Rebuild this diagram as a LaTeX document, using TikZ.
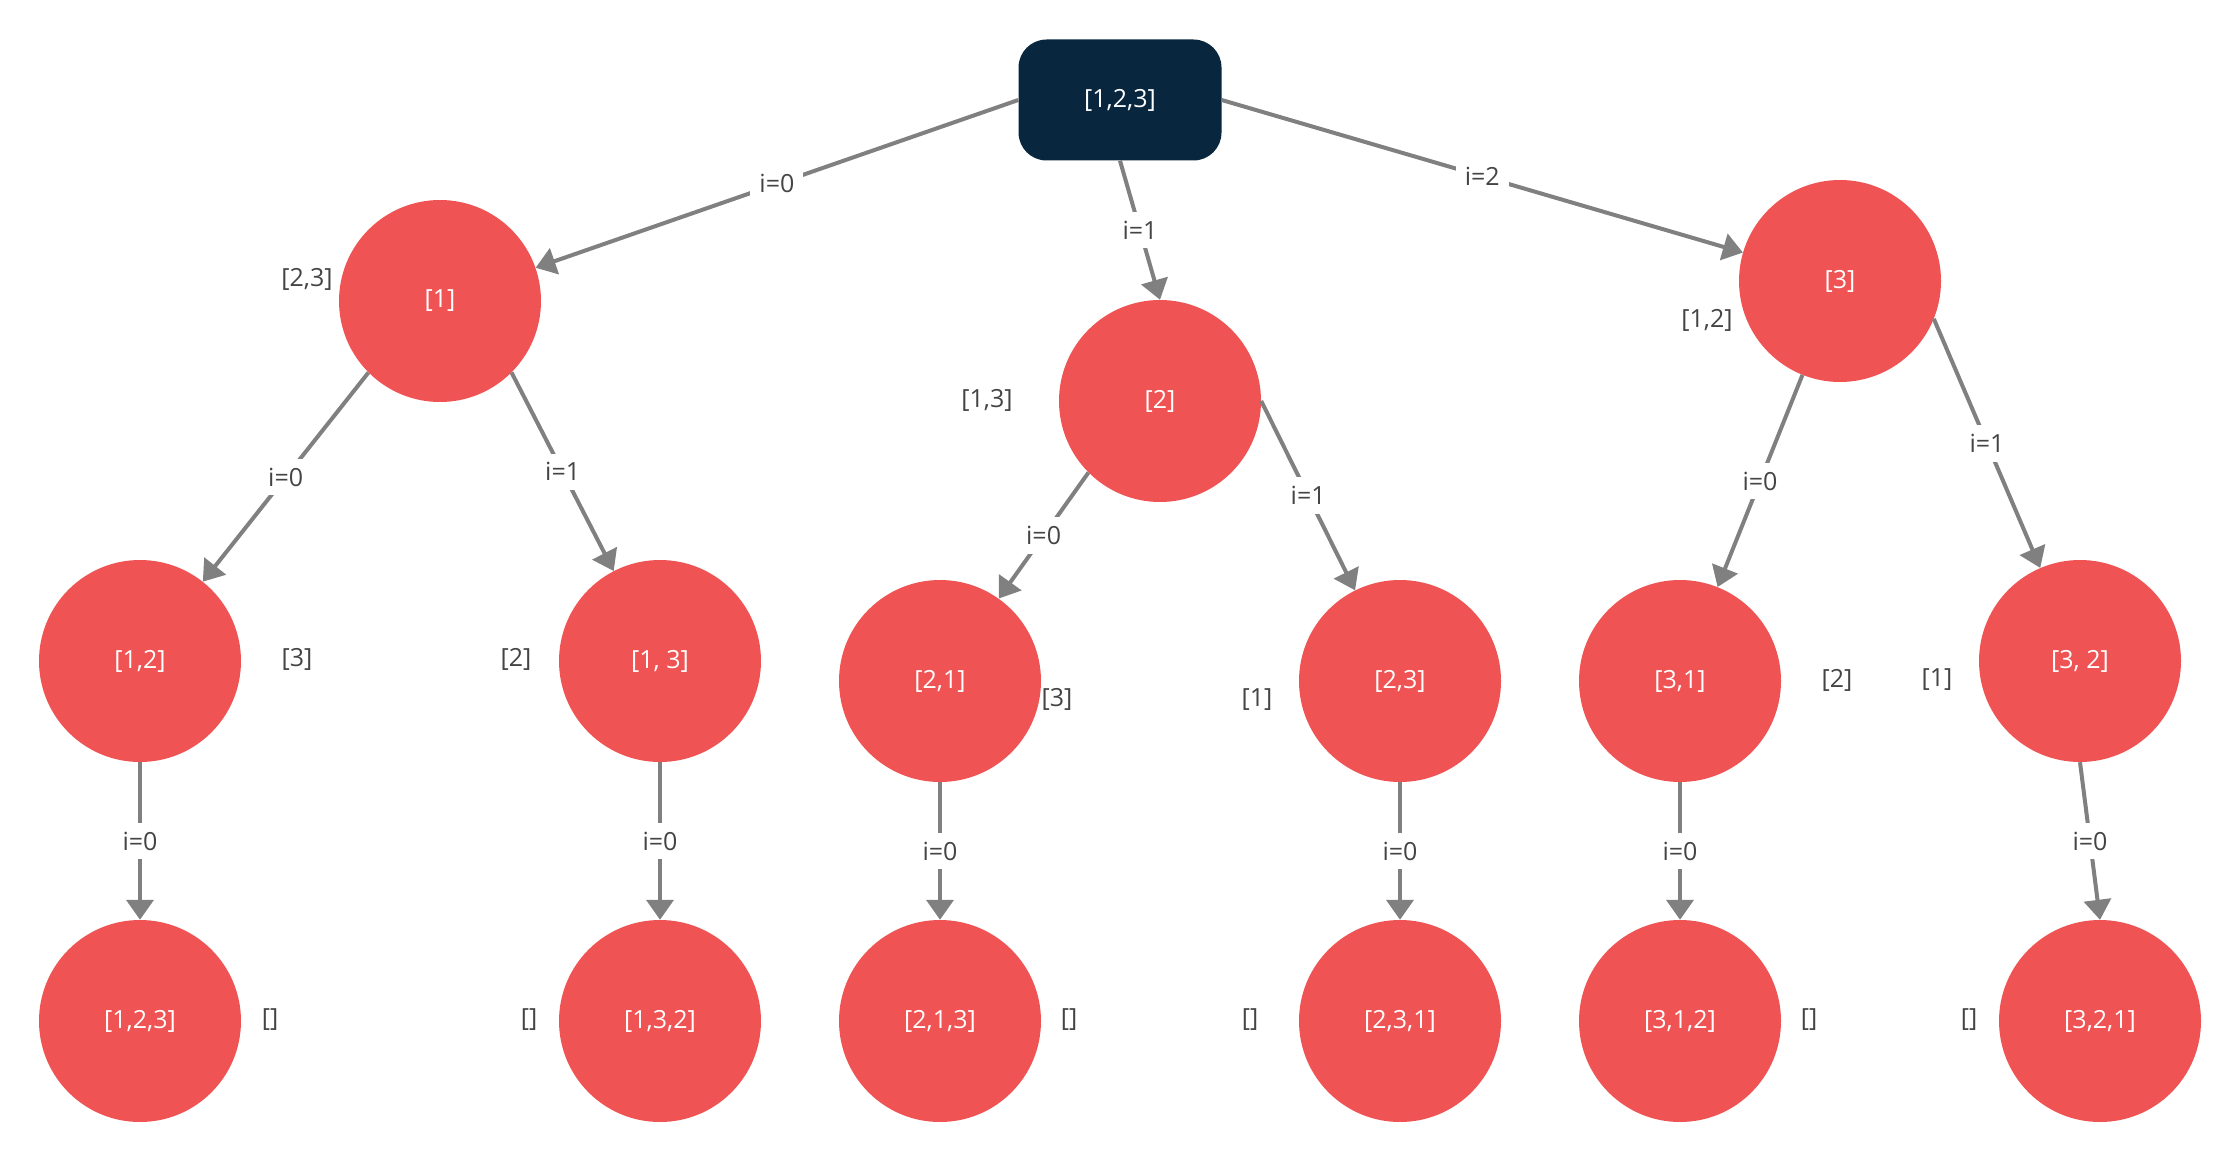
\documentclass[tikz,border=0pt]{standalone}
\usepackage{fontspec}
\setmainfont{Open Sans}
\usetikzlibrary{arrows.meta}
\definecolor{navy}{HTML}{08263D}
\definecolor{nodered}{HTML}{EF5353}
\definecolor{edgegray}{HTML}{808080}
\definecolor{textgray}{HTML}{444444}
\begin{document}
\begin{tikzpicture}[x=1pt,y=-1pt,
  every node/.style={font=\fontsize{25}{30}\selectfont},
  rootbox/.style={fill=navy, rounded corners=28pt, minimum width=203pt, minimum height=121pt, text=white, inner sep=0pt},
  perm/.style={circle, fill=nodered, minimum size=202pt, inner sep=0pt, text=white},
  rest/.style={text=textgray, inner sep=2pt},
  edge/.style={draw=edgegray, line width=4pt, -{Triangle[length=20pt,width=27pt]}},
  elabel/.style={fill=white, text=textgray, inner sep=9pt, pos=0.5}
]
\useasboundingbox (0,0) rectangle (2240,1161);

% root
\node[rootbox] (root) at (1120,100) {[1,2,3]};

% first level
\node[perm] (c1) at (440,301) {[1]};
\node[perm] (c2) at (1160,401) {[2]};
\node[perm] (c3) at (1840,281) {[3]};

% second level
\node[perm] (c12) at (140,661) {[1,2]};
\node[perm] (c13) at (660,661) {[1, 3]};
\node[perm] (c21) at (940,681) {[2,1]};
\node[perm] (c23) at (1400,681) {[2,3]};
\node[perm] (c31) at (1680,681) {[3,1]};
\node[perm] (c32) at (2080,661) {[3, 2]};

% leaves
\node[perm] (c123) at (140,1021) {[1,2,3]};
\node[perm] (c132) at (660,1021) {[1,3,2]};
\node[perm] (c213) at (940,1021) {[2,1,3]};
\node[perm] (c231) at (1400,1021) {[2,3,1]};
\node[perm] (c312) at (1680,1021) {[3,1,2]};
\node[perm] (c321) at (2100,1021) {[3,2,1]};

% remaining elements beside each node
\node[rest] (r1) at (307,279) {[2,3]};
\node[rest] (r2) at (987,400) {[1,3]};
\node[rest] (r3) at (1707,320) {[1,2]};
\node[rest] (r12) at (297,659) {[3]};
\node[rest] (r13) at (516,659) {[2]};
\node[rest] (r21) at (1057,699) {[3]};
\node[rest] (r23) at (1257,700) {[1]};
\node[rest] (r31) at (1837,680) {[2]};
\node[rest] (r32) at (1937,680) {[1]};
\node[rest] (r123) at (270,1020) {[]};
\node[rest] (r132) at (529,1020) {[]};
\node[rest] (r213) at (1069,1020) {[]};
\node[rest] (r231) at (1250,1020) {[]};
\node[rest] (r312) at (1809,1020) {[]};
\node[rest] (r321) at (1969,1020) {[]};

% connectors
\draw[edge] (root.west) -- node[elabel] {i=0} (c1);
\draw[edge] (root.south) -- node[elabel] {i=1} (c2.north);
\draw[edge] (root.east) -- node[elabel] {i=2} (c3);

\draw[edge] (c1.225) -- node[elabel] {i=0} (c12);
\draw[edge] (c1.-45) -- node[elabel] {i=1} (c13);
\draw[edge] (c2.225) -- node[elabel] {i=0} (c21);
\draw[edge] (c2.east) -- node[elabel] {i=1} (c23);
\draw[edge] (c3) -- node[elabel] {i=0} (c31);
\draw[edge] (c3.-22) -- node[elabel] {i=1} (c32);

\draw[edge] (c12.south) -- node[elabel] {i=0} (c123.north);
\draw[edge] (c13.south) -- node[elabel] {i=0} (c132.north);
\draw[edge] (c21.south) -- node[elabel] {i=0} (c213.north);
\draw[edge] (c23.south) -- node[elabel] {i=0} (c231.north);
\draw[edge] (c31.south) -- node[elabel] {i=0} (c312.north);
\draw[edge] (c32.south) -- node[elabel] {i=0} (c321.north);
\end{tikzpicture}
\end{document}
